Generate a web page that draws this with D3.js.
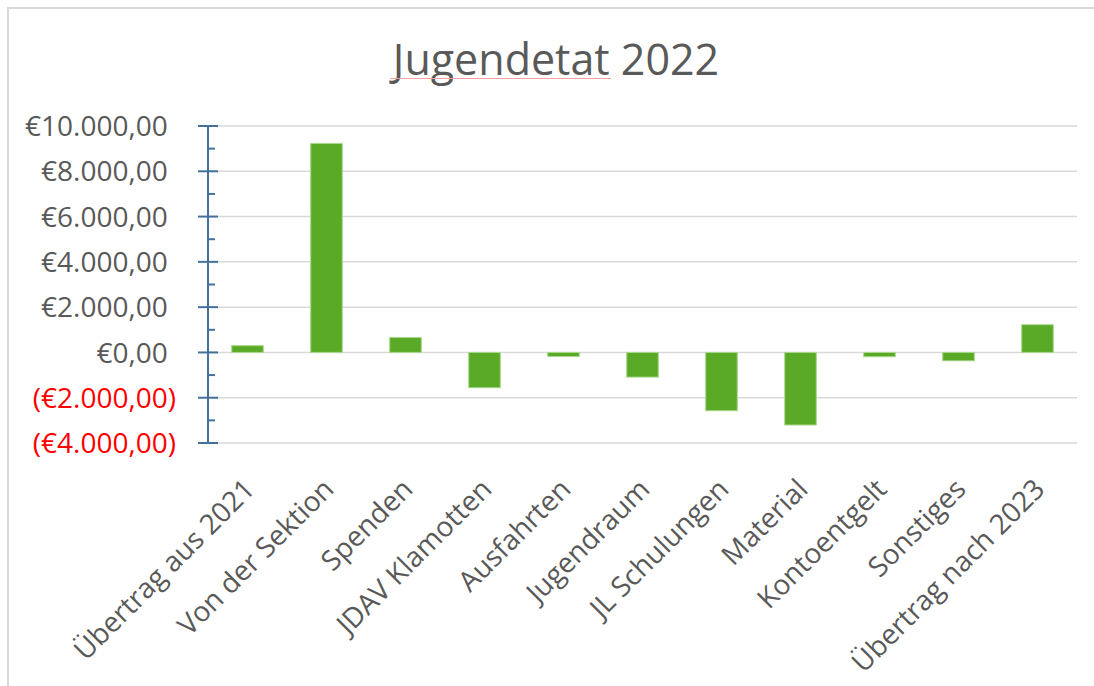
<!DOCTYPE html>
<html>
<head>
<meta charset="utf-8">
<script src="https://cdn.jsdelivr.net/npm/d3@7"></script>
<style>
  body { margin: 0; background: #fff; }
  text { font-family: 'Open Sans', sans-serif; }
</style>
</head>
<body>
<svg id="chart" width="1094" height="686"></svg>
<script>
// categories and values (EUR)
var categories = ['Übertrag aus 2021', 'Von der Sektion', 'Spenden', 'JDAV Klamotten', 'Ausfahrten',
    'Jugendraum', 'JL Schulungen', 'Material', 'Kontoentgelt', 'Sonstiges', 'Übertrag nach 2023'];
var values = [300, 9230, 660, -1560, -180, -1090, -2575, -3205, -190, -370, 1225];
var yTicks = [-4000, -2000, 0, 2000, 4000, 6000, 8000, 10000];
var yMinorTicks = [-3000, -1000, 1000, 3000, 5000, 7000, 9000];
var title = 'Jugendetat 2022';

var svg = d3.select('#chart');

// chart frame
svg.append('rect')
    .attr('x', 8).attr('y', 8)
    .attr('width', 1100).attr('height', 690)
    .attr('fill', 'none')
    .attr('stroke', '#d9d9d9')
    .attr('stroke-width', 2);

var plot = {l: 208, r: 1077, t: 126, b: 443};

var x = d3.scaleBand()
    .domain(categories)
    .range([plot.l, plot.r])
    .paddingInner(0.6)
    .paddingOuter(0.3);

var y = d3.scaleLinear()
    .domain([-4000, 10000])
    .range([plot.b, plot.t]);

// title
svg.append('text')
    .attr('x', 556).attr('y', 75)
    .attr('text-anchor', 'middle')
    .attr('font-size', 43)
    .attr('fill', '#595959')
    .text(title);
// spell-check underline under the first word
svg.append('line')
    .attr('x1', 390).attr('x2', 611)
    .attr('y1', 78.5).attr('y2', 78.5)
    .attr('stroke', '#f4a0a0')
    .attr('stroke-width', 1);

// gridlines
svg.append('g').selectAll('line')
    .data(yTicks)
    .join('line')
    .attr('x1', plot.l).attr('x2', plot.r)
    .attr('y1', function(d) { return y(d); })
    .attr('y2', function(d) { return y(d); })
    .attr('stroke', '#d9d9d9')
    .attr('stroke-width', 1.5);

// bars
svg.append('g').selectAll('rect')
    .data(values)
    .join('rect')
    .attr('x', function(d, i) { return x(categories[i]); })
    .attr('width', x.bandwidth())
    .attr('y', function(d) { return y(Math.max(0, d)); })
    .attr('height', function(d) { return Math.abs(y(d) - y(0)); })
    .attr('fill', '#5aaa28')
    .attr('stroke', '#a9d98e')
    .attr('stroke-width', 1);

// y axis: blue line, crossing major ticks, inner minor ticks
var axisColor = '#41719c';
var yAxisG = svg.append('g');
yAxisG.append('line')
    .attr('x1', plot.l).attr('x2', plot.l)
    .attr('y1', y(10000)).attr('y2', y(-4000))
    .attr('stroke', axisColor).attr('stroke-width', 2);
yAxisG.selectAll('.major')
    .data(yTicks)
    .join('line')
    .attr('class', 'major')
    .attr('x1', plot.l - 10).attr('x2', plot.l + 10)
    .attr('y1', function(d) { return y(d); })
    .attr('y2', function(d) { return y(d); })
    .attr('stroke', axisColor).attr('stroke-width', 2);
yAxisG.selectAll('.minor')
    .data(yMinorTicks)
    .join('line')
    .attr('class', 'minor')
    .attr('x1', plot.l).attr('x2', plot.l + 7)
    .attr('y1', function(d) { return y(d); })
    .attr('y2', function(d) { return y(d); })
    .attr('stroke', axisColor).attr('stroke-width', 2);

// tick labels, accounting format: €1.000,00 / (€1.000,00) in red
var num = d3.formatLocale({decimal: ',', thousands: '.', grouping: [3], currency: ['€', '']}).format(',.2f');
var yLabels = svg.append('g').selectAll('text')
    .data(yTicks)
    .join('text')
    .attr('x', 176)
    .attr('y', function(d) { return y(d); })
    .attr('dy', '0.36em')
    .attr('text-anchor', 'end')
    .attr('font-size', 28)
    .attr('fill', function(d) { return d < 0 ? '#ff0000' : '#595959'; });
yLabels.each(function(d) {
    var t = d3.select(this);
    if (d < 0) {
        t.text('(€' + num(-d) + ')');
    } else {
        t.append('tspan').text('€' + num(d));
        t.append('tspan').attr('fill-opacity', 0).text(')');
    }
});

// category labels, rotated -45
svg.append('g').selectAll('text')
    .data(categories)
    .join('text')
    .attr('transform', function(d) {
        return 'translate(' + (x(d) + x.bandwidth() / 2 + 2) + ',' + (plot.b + 41) + ') rotate(-45)';
    })
    .attr('text-anchor', 'end')
    .attr('dy', '0.35em')
    .attr('font-size', 28)
    .attr('fill', '#595959')
    .text(function(d) { return d; });
</script>
</body>
</html>
